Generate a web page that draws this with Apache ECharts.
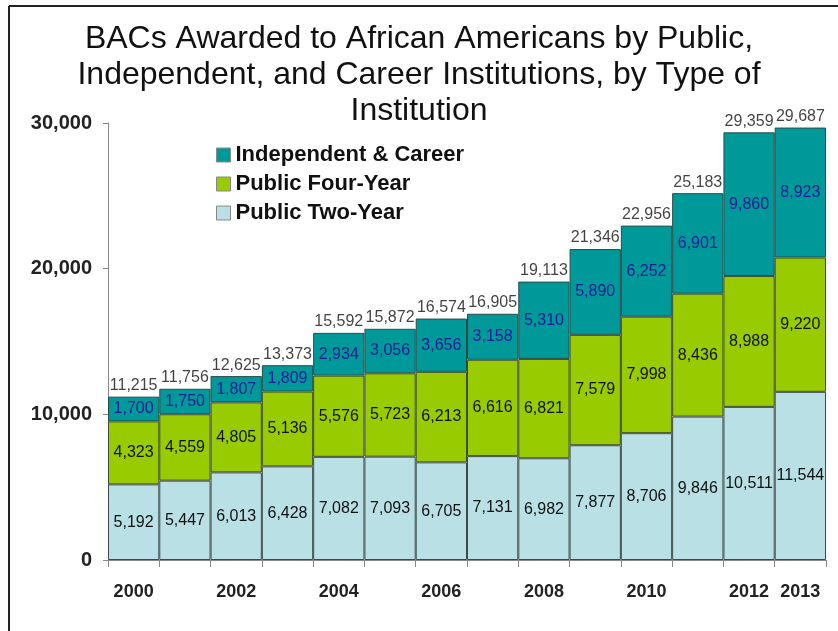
<!DOCTYPE html>
<html>
<head>
<meta charset="utf-8">
<script src="https://cdn.jsdelivr.net/npm/echarts@6/dist/echarts.min.js"></script>
<style>
  html, body { margin: 0; padding: 0; background: #fff; }
  #chart { width: 838px; height: 631px; }
</style>
</head>
<body>
<div id="chart"></div>
<script>
// Academic years
const years = ['2000','2001','2002','2003','2004','2005','2006','2007','2008','2009','2010','2011','2012','2013'];

// BAC counts by institution type
const publicTwoYear = [5192, 5447, 6013, 6428, 7082, 7093, 6705, 7131, 6982, 7877, 8706, 9846, 10511, 11544];
const publicFourYear = [4323, 4559, 4805, 5136, 5576, 5723, 6213, 6616, 6821, 7579, 7998, 8436, 8988, 9220];
const independentCareer = [1700, 1750, 1807, 1809, 2934, 3056, 3656, 3158, 5310, 5890, 6252, 6901, 9860, 8923];
const totals = [11215, 11756, 12625, 13373, 15592, 15872, 16574, 16905, 19113, 21346, 22956, 25183, 29359, 29687];

// Year labels shown on the category axis
const shownYears = ['2000','2002','2004','2006','2008','2010','2012','2013'];

const FONT = '"Liberation Sans", Arial, sans-serif';
const fmt = v => Number(v).toLocaleString('en-US');

const chart = echarts.init(document.getElementById('chart'), null, { renderer: 'canvas' });

const barBase = {
  type: 'bar',
  stack: 'total',
  barWidth: '100%',
  barGap: '0%',
  barCategoryGap: '0%'
};

const insideLabel = (color) => ({
  show: true,
  position: 'inside',
  fontFamily: FONT,
  fontSize: 16,
  color: color,
  formatter: p => fmt(p.value)
});

chart.setOption({
  animation: false,
  backgroundColor: '#ffffff',
  title: {
    text: 'BACs Awarded to African Americans by Public,\nIndependent, and Career Institutions, by Type of\nInstitution',
    left: 'center',
    top: 21,
    padding: 0,
    textStyle: {
      fontFamily: FONT,
      fontSize: 32,
      fontWeight: 'normal',
      lineHeight: 36,
      color: '#111'
    }
  },
  legend: {
    orient: 'vertical',
    left: 216,
    top: 144,
    padding: 0,
    itemWidth: 14,
    itemHeight: 14,
    itemGap: 7,
    icon: 'rect',
    data: ['Independent & Career', 'Public Four-Year', 'Public Two-Year'],
    itemStyle: { borderColor: '#888', borderWidth: 1 },
    textStyle: {
      fontFamily: FONT,
      fontSize: 22,
      fontWeight: 'bold',
      color: '#111'
    }
  },
  grid: {
    left: 108,
    right: 12,
    top: 123,
    bottom: 71,
    containLabel: false
  },
  xAxis: {
    type: 'category',
    data: years,
    axisLine: { show: true, lineStyle: { color: '#888', width: 1 } },
    axisTick: { show: true, alignWithLabel: false, interval: 0, length: 7, lineStyle: { color: '#888' } },
    axisLabel: {
      interval: (i, v) => shownYears.indexOf(v) >= 0,
      margin: 23,
      fontFamily: FONT,
      fontSize: 18,
      fontWeight: 'bold',
      color: '#222'
    }
  },
  yAxis: {
    type: 'value',
    min: 0,
    max: 30000,
    interval: 10000,
    splitLine: { show: false },
    axisLine: { show: true, lineStyle: { color: '#888', width: 1 } },
    axisTick: { show: true, length: 5, lineStyle: { color: '#888' } },
    axisLabel: {
      margin: 16,
      fontFamily: FONT,
      fontSize: 20,
      fontWeight: 'bold',
      color: '#222',
      formatter: v => fmt(v)
    }
  },
  series: [
    Object.assign({}, barBase, {
      name: 'Public Two-Year',
      data: publicTwoYear,
      itemStyle: { color: '#b9e0e4', borderColor: '#3d4a4a', borderWidth: 1 },
      label: insideLabel('#111')
    }),
    Object.assign({}, barBase, {
      name: 'Public Four-Year',
      data: publicFourYear,
      itemStyle: { color: '#99cc00', borderColor: '#3d4a30', borderWidth: 1 },
      label: insideLabel('#111')
    }),
    Object.assign({}, barBase, {
      name: 'Independent & Career',
      data: independentCareer,
      itemStyle: { color: '#009999', borderColor: '#2a4a4a', borderWidth: 1 },
      label: insideLabel('#1c1c96')
    }),
    {
      name: 'Total',
      type: 'scatter',
      data: totals,
      symbolSize: 0,
      silent: true,
      label: {
        show: true,
        position: 'top',
        distance: 3,
        fontFamily: FONT,
        fontSize: 16,
        color: '#111',
        formatter: p => fmt(p.value)
      }
    }
  ],
  graphic: [
    {
      type: 'line',
      shape: { x1: 9, y1: 6, x2: 9, y2: 631 },
      style: { stroke: '#222', lineWidth: 2 }
    },
    {
      type: 'line',
      shape: { x1: 9, y1: 6, x2: 838, y2: 6 },
      style: { stroke: '#222', lineWidth: 2 }
    }
  ]
});
</script>
</body>
</html>
